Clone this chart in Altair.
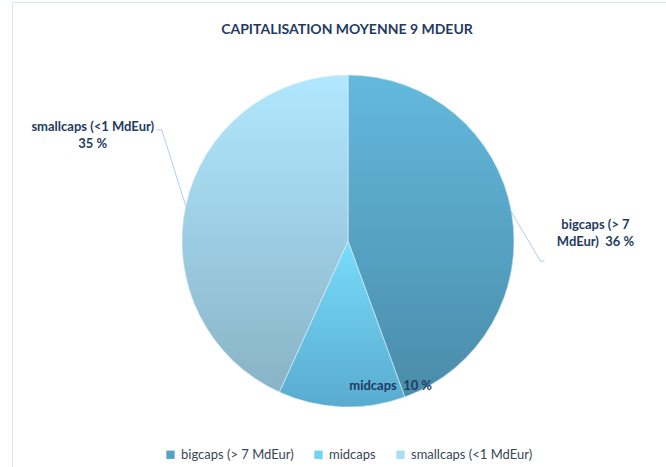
import math
import altair as alt
import pandas as pd

categories = ["bigcaps (> 7 MdEur)", "midcaps", "smallcaps (<1 MdEur)"]
values = [36, 10, 35]
label_texts = ["bigcaps (> 7\nMdEur)\u00a0\u00a036 %", "midcaps\u00a0\u00a010 %", "smallcaps (<1 MdEur)\n35 %"]
legend_colors = ["#56a3c6", "#70d4f4", "#a9def4"]
grad_top = ["#63b9de", "#79dcfb", "#b1e8ff"]
grad_bottom = ["#4a8ca9", "#58abcf", "#89b3c6"]

CX, CY, R = 348, 241, 166
FONT = "Lato"
NAVY = "#1f3b64"

total = sum(values)
cum = 0
rows = []
for i, (c, v) in enumerate(zip(categories, values)):
    rows.append({"cat": c, "value": v, "start": cum, "end": cum + v, "order": i})
    cum += v
df = pd.DataFrame(rows)

theta_scale = alt.Scale(domain=[0, total], range=[0, 2 * math.pi])
base = alt.Chart(df)

# underlying arc layer (gives the legend)
legend_layer = base.mark_arc(outerRadius=R, stroke=None).encode(
    x=alt.value(CX), y=alt.value(CY),
    theta=alt.Theta("start:Q", scale=theta_scale),
    theta2="end:Q",
    color=alt.Color("cat:N", scale=alt.Scale(domain=categories, range=legend_colors),
                    sort=categories,
                    legend=alt.Legend(title=None, orient="none", legendX=164, legendY=448,
                                      direction="horizontal", symbolType="square",
                                      symbolSize=70, symbolStrokeWidth=0,
                                      labelFont=FONT, labelFontSize=13, labelColor="#3a4658",
                                      columnPadding=18, labelOffset=4)),
)

layers = [legend_layer]
for i, c in enumerate(categories):
    grad = alt.LinearGradient(
        gradient="linear",
        stops=[alt.GradientStop(color=grad_top[i], offset=0),
               alt.GradientStop(color=grad_bottom[i], offset=1)],
        x1=0, x2=0, y1=0, y2=1,
    )
    layers.append(
        base.transform_filter(alt.datum.cat == c).mark_arc(
            outerRadius=R, fill=grad, stroke="#e8f4fa", strokeWidth=0.6
        ).encode(
            x=alt.value(CX), y=alt.value(CY),
            theta=alt.Theta("start:Q", scale=theta_scale),
            theta2="end:Q",
        )
    )

# label geometry derived from slice mid-angles
leader_rows = []
label_rows = []
for r in rows:
    mid = (r["start"] + r["end"]) / 2 / total * 2 * math.pi
    ex, ey = CX + R * math.sin(mid), CY - R * math.cos(mid)
    txt = label_texts[r["order"]]
    if r["cat"].startswith("bigcaps"):
        pts = [(ex, ey), (ex + 29, ey + 49), (ex + 33, ey + 49)]
        label_rows.append({"cat": r["cat"], "text": txt, "x": ex + 84, "y": ey + 13})
    elif r["cat"].startswith("smallcaps"):
        pts = [(ex, ey), (ex - 24, ey - 76), (ex - 29, ey - 76)]
        label_rows.append({"cat": r["cat"], "text": txt, "x": ex - 93, "y": ey - 79})
    else:
        rr = R * 0.83
        label_rows.append({"cat": r["cat"], "text": txt,
                           "x": CX + rr * math.sin(mid) + 48, "y": CY - rr * math.cos(mid) + 7})
        pts = []
    for k, (px, py) in enumerate(pts):
        leader_rows.append({"cat": r["cat"], "k": k, "x": px, "y": py})

leaders = alt.Chart(pd.DataFrame(leader_rows)).mark_line(
    color="#9dc3e6", strokeWidth=0.8
).encode(
    x=alt.X("x:Q", scale=None), y=alt.Y("y:Q", scale=None),
    detail="cat:N", order="k:Q",
)

labels = alt.Chart(pd.DataFrame(label_rows)).mark_text(
    font=FONT, fontSize=13, fontWeight="bold", color=NAVY, align="center",
    baseline="middle", lineBreak="\n", lineHeight=17,
).encode(
    x=alt.X("x:Q", scale=None), y=alt.Y("y:Q", scale=None), text="text:N",
)

border = alt.Chart(pd.DataFrame({"a": [0]})).mark_rect(
    fill=None, stroke="#d9e6f2", strokeWidth=1
).encode(x=alt.value(12.5), x2=alt.value(720), y=alt.value(2.5), y2=alt.value(520))

title = alt.Chart(pd.DataFrame({"t": ["CAPITALISATION MOYENNE 9 MDEUR"]})).mark_text(
    font=FONT, fontSize=14, fontWeight="bold", color=NAVY, align="center", baseline="middle"
).encode(x=alt.value(347), y=alt.value(30), text="t:N")

chart = alt.layer(border, *layers, leaders, labels, title).properties(
    width=666, height=467, autosize=alt.AutoSizeParams(type="none"), padding=0,
    background="white",
).configure_view(stroke=None)

chart.save("out.html", embed_options={"renderer": "svg", "actions": False})
